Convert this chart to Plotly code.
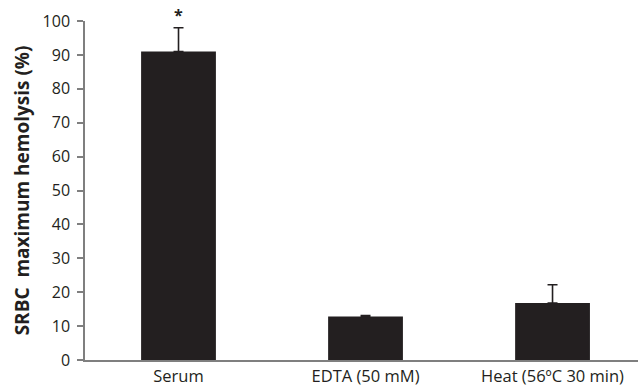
import plotly.graph_objects as go

categories = ["Serum", "EDTA (50 mM)", "Heat (56ºC 30 min)"]
values = [91.0, 12.8, 16.8]
errors = [7.0, 0.3, 5.4]
y_ticks = [0, 10, 20, 30, 40, 50, 60, 70, 80, 90, 100]
y_title = "SRBC  maximum hemolysis (%)"
sig_label = "*"

FONT = "Open Sans"
DARK = "#231f20"
AXIS = "#7f7f7f"

fig = go.Figure()
fig.add_trace(go.Bar(
    x=list(range(len(categories))),
    y=values,
    marker=dict(color=DARK, line=dict(width=0)),
    width=0.4,
    error_y=dict(type="data", symmetric=False, array=errors, arrayminus=[0]*len(errors),
                 color=DARK, thickness=1.6, width=5),
    showlegend=False,
))

fig.add_annotation(x=0, y=values[0] + errors[0], yshift=13, text="<b>" + sig_label + "</b>",
                   showarrow=False, font=dict(family=FONT, size=16, color=DARK),
                   xref="x", yref="y")

fig.update_layout(
    width=638, height=390,
    margin=dict(l=85, r=0, t=21, b=30),
    paper_bgcolor="white", plot_bgcolor="white",
    font=dict(family=FONT, color=DARK),
    bargap=0.6,
)
fig.update_xaxes(
    range=[-0.5, 2.457],
    tickmode="array", tickvals=list(range(len(categories))), ticktext=categories,
    tickfont=dict(size=16.5, family=FONT, color=DARK),
    showline=True, linecolor=AXIS, linewidth=1.5,
    ticks="", showgrid=False, zeroline=False,
)
fig.update_yaxes(
    range=[0, 100],
    tickmode="array", tickvals=y_ticks,
    tickfont=dict(size=16, family=FONT, color=DARK),
    ticklabelstandoff=4,
    showline=True, linecolor=AXIS, linewidth=1.5,
    ticks="outside", ticklen=6, tickcolor=AXIS, tickwidth=1.5,
    showgrid=False, zeroline=False,
    title=dict(text="<b>" + y_title + "</b>", font=dict(size=19, family=FONT, color=DARK), standoff=8),
)

fig.write_html("out.html")
